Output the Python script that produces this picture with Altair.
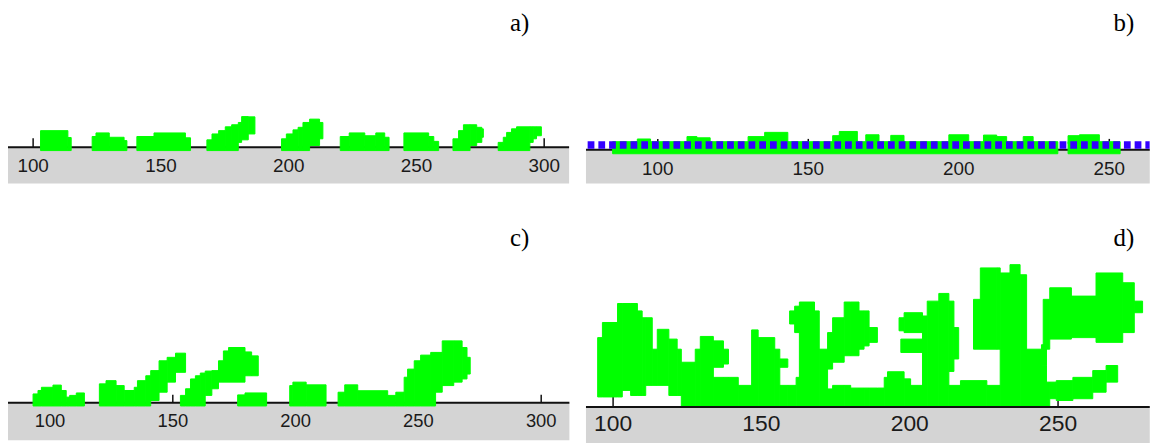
import altair as alt
import pandas as pd

# ---------------- data ----------------
# each green cell block: [x start, x end, height bottom, height top]
A_BLOBS = [
    [102.9, 113.6, -1.3, 6.5], [113.6, 114.9, -1.3, 3.8],
    [123.1, 124.6, -1.3, 4.2], [124.6, 129.8, -1.3, 5.6], [129.8, 135.6, -1.3, 3.9], [135.6, 136.7, -1.3, 2.6],
    [140.6, 147.3, -1.3, 4.2], [147.3, 159.6, -1.3, 5.6], [159.6, 161.6, -1.3, 3.7],
    [168.0, 170.0, -1.3, 2.9], [170.0, 172.6, -1.3, 5.2], [172.6, 175.2, -1.3, 6.5], [175.2, 177.7, -1.3, 8.0],
    [177.7, 180.3, -1.3, 8.8], [180.3, 181.6, 1.9, 9.7], [181.6, 184.2, 2.9, 12.0], [184.2, 186.8, 5.2, 11.9],
    [197.2, 199.1, -1.3, 3.3], [199.1, 201.7, -1.3, 5.2], [201.7, 203.7, -1.3, 6.8], [203.7, 205.6, -1.3, 7.8],
    [205.6, 208.2, -1.3, 9.7], [208.2, 212.1, 0.7, 11.0], [212.1, 213.4, 3.3, 9.7],
    [220.2, 223.7, -1.3, 4.2], [223.7, 229.8, -1.3, 5.6], [229.8, 234.1, -1.3, 4.5], [234.1, 237.6, -1.3, 5.6],
    [237.6, 239.3, -1.3, 3.9],
    [245.1, 254.8, -1.3, 5.6], [254.8, 256.8, -1.3, 4.2], [256.8, 258.7, -1.3, 2.3],
    [264.3, 266.5, -1.3, 3.3], [266.5, 268.4, -1.3, 6.5], [268.4, 271.0, -1.3, 8.8], [271.0, 273.6, 0.7, 8.8],
    [273.6, 275.6, 1.9, 7.8], [275.6, 276.2, 3.9, 7.2],
    [282.0, 284.0, -1.3, 1.9], [284.0, 285.3, -1.3, 3.9], [285.3, 287.2, -1.3, 5.8], [287.2, 289.2, -1.3, 7.2],
    [289.2, 294.4, -1.3, 8.0], [294.4, 295.7, 1.9, 8.0], [295.7, 297.0, 3.3, 8.0], [297.0, 298.9, 4.5, 8.0],
]

B_BLOBS = [
    [85.0, 232.9, -1.3, 2.7], [236.3, 253.6, -1.3, 2.7],
    [93.2, 97.6, 2.0, 3.6], [109.7, 113.0, 2.0, 4.4], [113.0, 117.4, 2.0, 4.0], [130.0, 135.5, 2.0, 4.4],
    [135.5, 143.2, 2.0, 5.8], [158.1, 160.3, 2.0, 4.7], [160.3, 166.3, 2.0, 6.1], [169.1, 173.5, 2.0, 5.0],
    [177.4, 181.8, 2.0, 4.8], [196.7, 203.3, 2.0, 5.0], [208.2, 212.6, 2.0, 4.9], [212.6, 215.9, 2.0, 4.4],
    [221.4, 224.7, 2.0, 4.4], [236.3, 240.1, 2.0, 4.7], [240.1, 246.7, 2.0, 5.0],
]
B_DOTS_X = [76.7, 263.4]   # extent of the blue dotted row
B_DOTS_LEVEL = [1.6, 1.6]

C_BLOBS = [
    [93.1, 95.1, -1.3, 3.6], [95.1, 96.5, -1.3, 5.0], [96.5, 101.2, -1.3, 6.3], [101.2, 104.6, -1.3, 7.2],
    [104.6, 106.6, -1.3, 5.0], [106.6, 108.0, -1.3, 2.3], [108.0, 110.7, -1.3, 3.0], [110.7, 114.0, -1.3, 4.0],
    [120.1, 122.8, -1.3, 7.7], [122.8, 126.9, -1.3, 9.0], [126.9, 130.2, -1.3, 7.0], [130.2, 134.3, -1.3, 5.0],
    [134.3, 135.6, -1.3, 6.3], [135.6, 139.0, -1.3, 9.0], [139.0, 141.0, -1.3, 11.0], [141.0, 144.4, 0.9, 13.1],
    [144.4, 147.7, 4.3, 17.1], [147.7, 151.1, 8.4, 18.5], [151.1, 155.2, 12.4, 20.2],
    [153.1, 155.2, -1.3, 3.0], [155.2, 157.2, -1.3, 5.7], [157.2, 159.2, -1.3, 9.7], [159.2, 161.2, -1.3, 11.0],
    [161.2, 163.2, -1.3, 12.1], [163.2, 165.9, 3.0, 12.9], [165.9, 168.6, 5.7, 13.1], [168.6, 170.6, 8.4, 17.1],
    [170.6, 172.7, 8.4, 21.1], [172.7, 179.4, 8.4, 22.5], [179.4, 182.1, 11.0, 20.7], [182.1, 184.8, 11.0, 19.1],
    [176.4, 179.4, -1.3, 3.2], [179.4, 188.2, -1.3, 4.0],
    [197.6, 198.9, -1.3, 7.0], [198.9, 204.3, -1.3, 8.4], [204.3, 212.4, -1.3, 7.3],
    [217.3, 220.0, -1.3, 4.3], [220.0, 225.3, -1.3, 7.3], [225.3, 237.5, -1.3, 4.9], [237.5, 240.8, -1.3, 3.0],
    [240.8, 244.2, -1.3, 4.3], [244.2, 245.6, -1.3, 10.4], [245.6, 248.3, -1.3, 13.7], [248.3, 250.9, -1.3, 17.1],
    [250.9, 255.0, -1.3, 19.4], [255.0, 257.0, -1.3, 20.5], [257.0, 259.7, 4.3, 20.5], [259.7, 264.4, 7.0, 25.2],
    [264.4, 267.8, 8.4, 25.2], [267.8, 269.8, 9.7, 22.5], [269.8, 271.1, 11.7, 18.5],
]

D_BLOBS = [
    [94.8, 96.4, 3.4, 23.4], [96.4, 101.5, 3.4, 28.5], [101.5, 103.1, 3.4, 34.9], [103.1, 105.9, 5.6, 34.9],
    [105.9, 108.2, 3.9, 34.9], [108.2, 109.8, 3.9, 32.4], [109.8, 111.0, 3.9, 30.1], [111.0, 113.2, 7.3, 30.1],
    [113.2, 114.9, 7.3, 19.5], [114.9, 118.8, 7.3, 26.2], [118.8, 121.6, 3.9, 22.9], [121.6, 123.0, 3.9, 19.5],
    [123.0, 127.7, 0, 15.1], [127.7, 129.4, 0, 19.5], [129.4, 133.8, 0, 23.8],
    [133.8, 137.2, 0, 10.0], [133.8, 137.2, 13.4, 22.3], [137.2, 138.9, 0, 10.0], [137.2, 138.9, 14.5, 19.5],
    [138.9, 142.2, 0, 10.0], [142.2, 146.7, 0, 7.3],
    [146.7, 148.9, 0, 26.0], [148.9, 154.5, 0, 23.4], [154.5, 156.2, 0, 19.5],
    [156.2, 158.9, 0, 7.3], [156.2, 158.9, 13.4, 16.2], [158.9, 161.7, 0, 7.3],
    [159.5, 161.2, 28.0, 32.4], [161.2, 162.8, 25.1, 34.0], [161.7, 163.4, 0, 10.0],
    [162.8, 167.9, 0, 35.4], [167.9, 169.5, 0, 32.4], [169.5, 172.3, 0, 19.5],
    [172.3, 174.0, 0, 6.1], [172.3, 174.0, 12.8, 25.1], [174.0, 177.9, 0, 7.3], [174.0, 177.9, 15.1, 30.1],
    [177.9, 180.1, 0, 7.3], [177.9, 180.1, 17.3, 35.4], [180.1, 182.9, 0, 6.4], [180.1, 182.9, 17.3, 35.4],
    [182.9, 184.6, 0, 6.4], [182.9, 184.6, 19.5, 32.4], [184.6, 186.3, 0, 6.4], [184.6, 186.3, 20.6, 32.4],
    [186.3, 189.1, 0, 6.4], [186.3, 189.1, 21.8, 26.8],
    [189.1, 191.4, 0, 6.4], [191.4, 192.5, 0, 10.0], [192.5, 198.1, 0, 11.9], [198.1, 200.3, 0, 9.5],
    [200.3, 204.3, 0, 7.3],
    [196.4, 198.1, 25.7, 30.1], [197.0, 204.3, 18.4, 22.9], [198.1, 204.3, 25.1, 31.8],
    [204.3, 205.9, 0, 30.7], [205.9, 209.8, 0, 35.7], [209.8, 213.2, 0, 38.3],
    [213.2, 214.9, 12.0, 35.7], [214.9, 216.5, 16.2, 26.8], [213.2, 217.1, 0, 7.3],
    [217.1, 226.0, 0, 8.9], [226.0, 230.5, 0, 7.3],
    [221.5, 223.8, 19.5, 36.3], [223.8, 229.4, 19.5, 46.9], [229.4, 230.5, 19.5, 46.9],
    [230.5, 233.8, 0, 45.2], [233.8, 237.2, 0, 48.0], [237.2, 239.4, 0, 44.6],
    [239.4, 244.4, 0, 19.5], [244.4, 246.1, 0, 13.9], [244.4, 246.1, 13.9, 21.0],
    [246.1, 247.2, 0, 8.4], [247.2, 249.4, 2.8, 8.4], [249.4, 255.0, 2.2, 8.9], [255.0, 261.7, 2.8, 10.0],
    [261.7, 266.2, 5.0, 12.3], [266.2, 270.1, 8.4, 14.0],
    [245.0, 247.2, 19.5, 36.3], [247.2, 254.5, 22.9, 40.2], [254.5, 262.8, 23.4, 37.4],
    [262.8, 271.8, 21.8, 45.2], [271.8, 275.7, 25.1, 41.9], [275.7, 278.5, 31.8, 35.7],
]

A_TICKS = [100, 150, 200, 250, 300]
B_TICKS = [100, 150, 200, 250]
C_TICKS = [100, 150, 200, 250, 300]
D_TICKS = [100, 150, 200, 250]
LETTERS = ["a)", "b)", "c)", "d)"]

# ---------------- styling ----------------
GREEN = "#00ff00"
BLUE = "#3300ff"
GRAY = "#d4d4d4"
TXT = "#1a1a1a"


def panel(rects, ticks, letter, xdom, xrange, ydom, yrange, band, line_y, tick_len,
          label_y, label_size, letter_xy, line_on_top=False, dots=None):
    xs = alt.Scale(domain=xdom, range=xrange, nice=False, zero=False)
    ys = alt.Scale(domain=ydom, range=yrange, nice=False, zero=False)
    bx0, bx1, by0, by1 = band
    one = alt.Chart(pd.DataFrame({"k": [0]}))
    tdf = alt.Chart(pd.DataFrame({"t": ticks}))

    gray = one.mark_rect(color=GRAY, opacity=1).encode(
        x=alt.value(bx0), x2=alt.value(bx1), y=alt.value(by0), y2=alt.value(by1))
    line = one.mark_rule(color="#111111", strokeWidth=2, opacity=1).encode(
        x=alt.value(bx0), x2=alt.value(bx1), y=alt.value(line_y))
    tick = tdf.mark_rule(color="#111111", strokeWidth=1.5, opacity=1).encode(
        x=alt.X("t:Q", scale=xs, axis=None),
        y=alt.value(line_y - tick_len), y2=alt.value(line_y))
    green = alt.Chart(pd.DataFrame(rects, columns=["x0", "x1", "y0", "y1"])).mark_rect(
        color=GREEN, stroke=GREEN, strokeWidth=1.0, opacity=1, fillOpacity=1,
        strokeOpacity=1).encode(
        x=alt.X("x0:Q", scale=xs, axis=None), x2="x1:Q",
        y=alt.Y("y0:Q", scale=ys, axis=None), y2="y1:Q")
    labels = tdf.mark_text(font="Liberation Sans", fontSize=label_size, color=TXT,
                           baseline="middle", align="center").encode(
        x=alt.X("t:Q", scale=xs, axis=None), y=alt.value(label_y),
        text=alt.Text("t:Q", format="d"))
    lett = alt.Chart(pd.DataFrame({"l": [letter]})).mark_text(
        font="Liberation Serif", fontSize=25, color="#000000",
        align="right", baseline="middle").encode(
        x=alt.value(letter_xy[0]), y=alt.value(letter_xy[1]), text="l:N")

    layers = [gray]
    if not line_on_top:
        layers.append(line)
    layers += [tick, green]
    if line_on_top:
        layers.append(line)
    if dots is not None:
        dx, dl = dots
        dline = alt.Chart(pd.DataFrame({"x0": [dx[0]], "x1": [dx[1]], "lv": [dl[0]]})).mark_rule(
            color=BLUE, strokeWidth=7.6, strokeDash=[6.8, 4.0], strokeCap="butt",
            opacity=1).encode(
            x=alt.X("x0:Q", scale=xs, axis=None), x2="x1:Q",
            y=alt.Y("lv:Q", scale=ys, axis=None))
        layers.append(dline)
    layers += [labels, lett]
    return alt.layer(*layers)


pa = panel(A_BLOBS, A_TICKS, LETTERS[0], [100, 300], [25.3, 539.9], [0, 20], [138.7, 87.24],
           (-2, 565, 138.7, 175.3), 138.7, 9, 157.5, 19, (525, 14))
pb = panel(B_BLOBS, B_TICKS, LETTERS[1], [100, 250], [654.3, 1108.95], [0, 10], [141.3, 110.99],
           (582, 1149.7, 141.3, 175.3), 141.3, 11, 160.5, 19, (1134, 14),
           dots=(B_DOTS_X, B_DOTS_LEVEL))
pc = panel(C_BLOBS, C_TICKS, LETTERS[2], [100, 300], [42.3, 536.9], [0, 30], [396, 321.81],
           (-2, 565.3, 396, 433.7), 396, 8, 414.7, 18.5, (525, 230))
pd_ = panel(D_BLOBS, D_TICKS, LETTERS[3], [100, 250], [609.3, 1057.35], [0, 50], [400.3, 250.95],
            (582, 1149.7, 400.3, 440), 400.3, 10, 417.7, 23, (1134, 230), line_on_top=True)

chart = alt.layer(pa, pb, pc, pd_).resolve_scale(
    x="independent", y="independent"
).properties(
    width=1159, height=435, padding=0, autosize="none", background="white"
).configure_view(stroke=None)

chart.save("out.html", embed_options={"renderer": "svg", "actions": False})
